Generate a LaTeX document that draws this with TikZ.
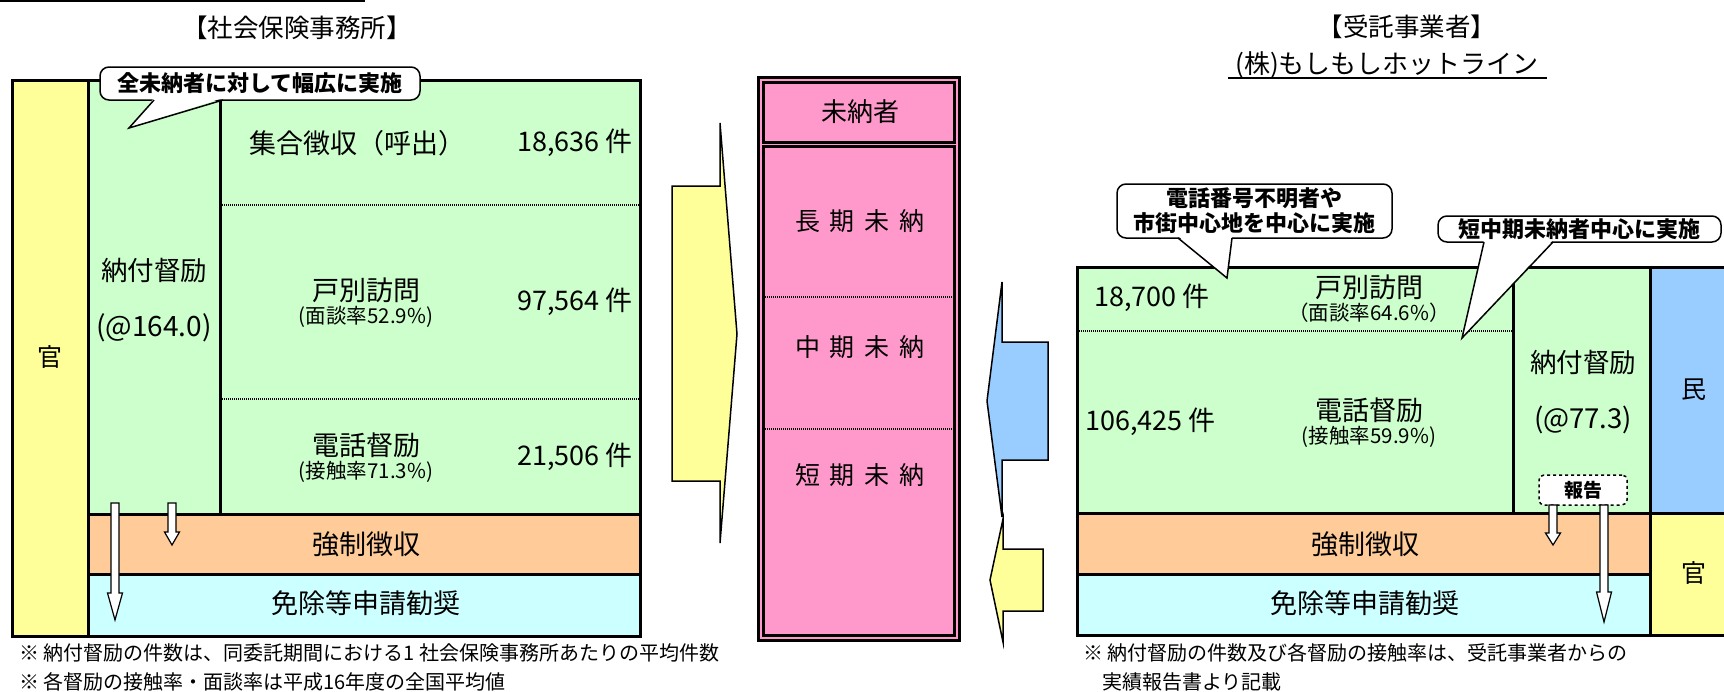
\documentclass[tikz,border=0pt]{standalone}
\usepackage{fontspec}
\setmainfont{Noto Sans CJK JP}
\usetikzlibrary{positioning}
\definecolor{kiiro}{HTML}{FFFF99}
\definecolor{midori}{HTML}{CCFFCC}
\definecolor{daidai}{HTML}{FFCC99}
\definecolor{mizu}{HTML}{CCFFFF}
\definecolor{momo}{HTML}{FF99CC}
\definecolor{ao}{HTML}{99CCFF}
\newcommand\hollowdown[4]{\draw[hollow] (#1-4,#2) -- (#1-4,#3) -- (#1-7.5,#3) -- (#1,#4) -- (#1+7.5,#3) -- (#1+4,#3) -- (#1+4,#2) -- cycle;}

\begin{document}
\begin{tikzpicture}[x=1pt,y=-1pt,line join=miter,
	box/.style={draw,line width=3pt},
	sep/.style={line width=2pt,dash pattern=on 1pt off 1pt},
	lbl/.style={inner sep=0pt,font=\fontsize{27}{32}\selectfont},
	term/.style={inner sep=0pt,font=\fontsize{25}{30}\selectfont},
	num/.style={inner sep=0pt,font=\fontsize{27}{32}\selectfont},
	rate/.style={inner sep=0pt,font=\fontsize{20.5}{24}\selectfont},
	head/.style={inner sep=0pt,font=\fontsize{25.5}{30}\selectfont},
	note/.style={inner sep=0pt,anchor=west,font=\fontsize{20}{24}\selectfont},
	callbox/.style={draw,fill=white,line width=1.5pt,rounded corners=9pt,inner sep=0pt,align=center,font=\bfseries\fontsize{22}{26}\selectfont},
	tail/.style={line width=1.5pt},
	bigarrow/.style={draw,line width=1.5pt},
	hollow/.style={draw,fill=white,line width=1.2pt},
	report/.style={draw,dashed,fill=white,line width=1.5pt,rounded corners=5pt,minimum width=88pt,minimum height=30pt,inner sep=0pt,font=\bfseries\fontsize{19}{22}\selectfont}]
	\useasboundingbox (0,0) rectangle (1724,691);
	\clip (0,0) rectangle (1724,691);
	\draw[line width=2pt] (0,1) -- (365,1);
	
	% left frame
	\draw[box,fill=kiiro] (12,80) rectangle (88,636);
	\draw[box,fill=midori] (88,80) rectangle (220,514);
	\draw[box,fill=midori] (220,80) rectangle (640,514);
	\draw[box,fill=daidai] (88,514) rectangle (640,574);
	\draw[box,fill=mizu] (88,574) rectangle (640,636);
	\draw[sep] (220,205) -- (640,205);
	\draw[sep] (220,399) -- (640,399);
	
	\node[head] (office) at (297,28) {【社会保険事務所】};
	\node[term] (kanL) at (50,357) {官};
	\node[term,font=\fontsize{26.5}{32}\selectfont] (tokureiL) at (154,270) {納付督励};
	\node[num,font=\fontsize{28}{32}\selectfont] (tankaL) at (154,328) {(@164.0)};
	\node[lbl] (shugo) at (357,143) {集合徴収（呼出）};
	\node[num,anchor=east] (shugoN) at (633,143) {18,636 件};
	\node[lbl] (kobetsuL) at (366,290) {戸別訪問};
	\node[rate,below=3pt of kobetsuL] (kobetsuLR) {(面談率52.9\%)};
	\node[num,anchor=east] (kobetsuLN) at (633,302) {97,564 件};
	\node[lbl] (denwaL) at (366,445) {電話督励};
	\node[rate,below=3pt of denwaL] (denwaLR) {(接触率71.3\%)};
	\node[num,anchor=east] (denwaLN) at (633,457) {21,506 件};
	\node[lbl] (kyoseiL) at (366,544) {強制徴収};
	\node[lbl] (menjoL) at (366,603) {免除等申請勧奨};
	\hollowdown{115}{503}{593}{620}
	\hollowdown{172}{503}{532}{545}
	
	\node[callbox,minimum width=320pt,minimum height=33pt] (callL) at (260,83.5) {全未納者に対して幅広に実施};
	\fill[white] (154,98) -- (129,128) -- (223,98) -- cycle;
	\draw[tail] (154,100) -- (129,128) -- (223,100);
	
	% middle
	\draw[bigarrow,fill=kiiro] (672,186) -- (720,186) -- (720,123) -- (737,334) -- (720,543) -- (720,481) -- (672,481) -- cycle;
	\draw[box,fill=momo] (758,77) rectangle (959,640);
	\draw[box,fill=momo] (763,82) rectangle (954,142);
	\draw[box,fill=momo] (763,146) rectangle (954,635);
	\draw[sep] (763,297) -- (954,297);
	\draw[sep] (763,429) -- (954,429);
	\node[term,font=\fontsize{26}{30}\selectfont] (minosha) at (860,112) {未納者};
	\node[term] (choki) at (860,221) {長\hspace{0.4em}期\hspace{0.4em}未\hspace{0.4em}納};
	\node[term] (chuki) at (860,347) {中\hspace{0.4em}期\hspace{0.4em}未\hspace{0.4em}納};
	\node[term] (tanki) at (860,475) {短\hspace{0.4em}期\hspace{0.4em}未\hspace{0.4em}納};
	\draw[bigarrow,fill=ao] (1048,342) -- (1002,342) -- (1002,282) -- (987,401) -- (1002,517) -- (1002,460) -- (1048,460) -- cycle;
	\draw[bigarrow,fill=kiiro] (1043,549) -- (1003,549) -- (1003,519) -- (990,580) -- (1003,642) -- (1003,611) -- (1043,611) -- cycle;
	
	% right frame
	\draw[box,fill=midori] (1077,267) rectangle (1513,513);
	\draw[box,fill=midori] (1513,267) rectangle (1650,513);
	\draw[box,fill=ao] (1650,267) rectangle (1730,513);
	\draw[box,fill=daidai] (1077,513) rectangle (1650,574);
	\draw[box,fill=mizu] (1077,574) rectangle (1650,635);
	\draw[box,fill=kiiro] (1650,513) rectangle (1730,635);
	\draw[sep] (1077,331) -- (1513,331);
	
	\node[head] (itaku) at (1407,27) {【受託事業者】};
	\node[term,font=\fontsize{26}{30}\selectfont] (company) at (1387,65) {(株)もしもしホットライン};
	\draw[line width=1.5pt] (1228,78) -- (1547,78);
	\node[num,anchor=west] (kobetsuRN) at (1094,298) {18,700 件};
	\node[lbl] (kobetsuR) at (1369,287) {戸別訪問};
	\node[rate,below=3pt of kobetsuR] (kobetsuRR) {（面談率64.6\%）};
	\node[num,anchor=west] (denwaRN) at (1085,422) {106,425 件};
	\node[lbl] (denwaR) at (1369,410) {電話督励};
	\node[rate,below=3pt of denwaR] (denwaRR) {(接触率59.9\%)};
	\node[term,font=\fontsize{26.5}{32}\selectfont] (tokureiR) at (1583,362) {納付督励};
	\node[num,font=\fontsize{27.5}{32}\selectfont] (tankaR) at (1583,420) {(@77.3)};
	\node[term] (min) at (1694,390) {民};
	\node[term] (kanR) at (1694,573) {官};
	\node[lbl] (kyoseiR) at (1365,544) {強制徴収};
	\node[lbl] (menjoR) at (1365,603) {免除等申請勧奨};
	\node[report] (hokoku) at (1583,490) {報告};
	\hollowdown{1553}{505}{533}{545}
	\hollowdown{1604}{505}{592}{622}
	
	\node[callbox,minimum width=275pt,minimum height=54pt] (callR1) at (1254.5,211) {電話番号不明者や\\[-1pt]市街中心地を中心に実施};
	\fill[white] (1178,236) -- (1227,278) -- (1232,236) -- cycle;
	\draw[tail] (1178,238) -- (1227,278) -- (1232,238);
	\node[callbox,minimum width=283pt,minimum height=26pt] (callR2) at (1579.5,229) {短中期未納者中心に実施};
	\fill[white] (1484,240) -- (1462,338) -- (1553,240) -- cycle;
	\draw[tail] (1484,242) -- (1462,338) -- (1553,242);
	
	% notes
	\node[note] (noteL1) at (19,653) {※ 納付督励の件数は、同委託期間における1 社会保険事務所あたりの平均件数};
	\node[note] (noteL2) at (19,682) {※ 各督励の接触率・面談率は平成16年度の全国平均値};
	\node[note] (noteR1) at (1083,653) {※ 納付督励の件数及び各督励の接触率は、受託事業者からの};
	\node[note] (noteR2) at (1102,682) {実績報告書より記載};
\end{tikzpicture}
\end{document}
